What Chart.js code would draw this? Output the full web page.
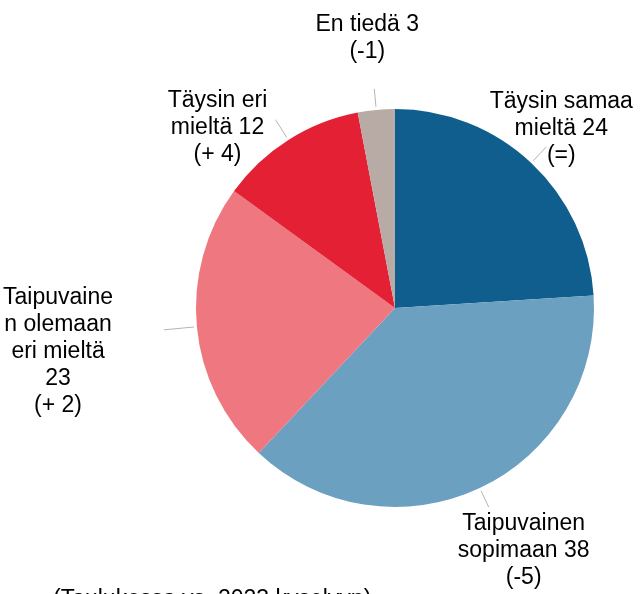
<!DOCTYPE html>
<html>
<head>
<meta charset="utf-8">
<script src="https://cdn.jsdelivr.net/npm/chart.js@4"></script>
<style>
  body { margin: 0; background: #fff; }
  #wrap { width: 641px; height: 594px; position: relative; }
</style>
</head>
<body>
<div id="wrap"><canvas id="myChart"></canvas></div>
<script>
const categories = ['Täysin samaa mieltä', 'Taipuvainen sopimaan', 'Taipuvainen olemaan eri mieltä', 'Täysin eri mieltä', 'En tiedä'];
const values = [24, 38, 23, 12, 3];
const changes = ['(=)', '(-5)', '(+ 2)', '(+ 4)', '(-1)'];
const footnote = '(Taulukossa vs. 2023 kyselyyn)';

const colors = ['#0f5e8e', '#6ba0c1', '#ee7780', '#e32034', '#b8aaa4'];

// how each label is wrapped and where it sits relative to the end of its leader line
const labelLayout = [
    { lines: ['Täysin samaa', 'mieltä'], ownLine: false, leader: 22, dx: 15, dy: -18 },
    { lines: ['Taipuvainen', 'sopimaan'], ownLine: false, leader: 21, dx: 35, dy: 44 },
    { lines: ['Taipuvaine', 'n olemaan', 'eri mieltä'], ownLine: true, leader: 33, dx: -106, dy: 22 },
    { lines: ['Täysin eri', 'mieltä'], ownLine: false, leader: 24, dx: -58, dy: 8 },
    { lines: ['En tiedä'], ownLine: false, leader: 21, dx: -7, dy: -51 }
];

const labelPlugin = {
    id: 'pieLabels',
    afterDraw(chart) {
        const c = chart.ctx;
        const arcs = chart.getDatasetMeta(0).data;
        c.save();
        arcs.forEach(function(arc, i) {
            const mid = (arc.startAngle + arc.endAngle) / 2;
            const r = arc.outerRadius;
            const lay = labelLayout[i];
            const x1 = arc.x + Math.cos(mid) * (r + 3);
            const y1 = arc.y + Math.sin(mid) * (r + 3);
            const x2 = arc.x + Math.cos(mid) * (r + lay.leader);
            const y2 = arc.y + Math.sin(mid) * (r + lay.leader);
            c.strokeStyle = '#b4b4b4';
            c.lineWidth = 1;
            c.beginPath();
            c.moveTo(x1, y1);
            c.lineTo(x2, y2);
            c.stroke();

            let lines = lay.lines.slice();
            if (lay.ownLine) {
                lines.push(String(values[i]));
            } else {
                lines[lines.length - 1] += ' ' + values[i];
            }
            lines.push(changes[i]);

            const lh = 27;
            const cx = x2 + lay.dx;
            const cy = y2 + lay.dy;
            c.fillStyle = '#000';
            c.font = '23px "Liberation Sans", Arial, sans-serif';
            c.textAlign = 'center';
            c.textBaseline = 'middle';
            lines.forEach(function(t, k) {
                c.fillText(t, cx, cy + (k - (lines.length - 1) / 2) * lh);
            });
        });

        // footnote, cut off by the bottom edge as in the original
        c.textAlign = 'left';
        c.textBaseline = 'alphabetic';
        c.fillText(footnote, 53, 606);
        c.restore();
    }
};

const ctx = document.getElementById('myChart');

const myChart = new Chart(ctx, {
    type: 'pie',
    data: {
        labels: categories,
        datasets: [{
            data: values,
            backgroundColor: colors,
            borderWidth: 0,
            hoverOffset: 0
        }]
    },
    options: {
        responsive: true,
        maintainAspectRatio: false,
        animation: false,
        events: [],
        layout: {
            padding: { left: 196, right: 47, top: 109, bottom: 87 }
        },
        plugins: {
            legend: { display: false },
            tooltip: { enabled: false }
        }
    },
    plugins: [labelPlugin]
});
</script>
</body>
</html>
